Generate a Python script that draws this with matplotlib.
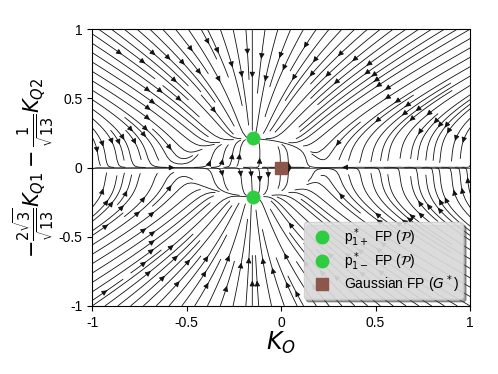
import numpy as np
import matplotlib
matplotlib.use("Agg")
import matplotlib.pyplot as plt

plt.rcParams['font.family'] = ['Liberation Sans', 'DejaVu Sans']
plt.rcParams['mathtext.fontset'] = 'dejavusans'

# fixed points
fp_x = [-0.15, -0.15, 0.0]
fp_y = [0.21, -0.21, 0.0]
fp_labels = [r'p$^*_{1+}$ FP ($\mathcal{P}$)',
             r'p$^*_{1-}$ FP ($\mathcal{P}$)',
             r'Gaussian FP ($G^*$)']
fp_colors = ['#2ecc40', '#2ecc40', '#8c564b']
fp_markers = ['o', 'o', 's']

ticks = [-1, -0.5, 0, 0.5, 1]
tick_labels = ['-1', '-0.5', '0', '0.5', '1']

# flow parameters (shape of the beta functions)
a, b = fp_x[0], fp_y[0]
eps, k, c, s = 0.001, 1.66, 0.3, 0.35


def beta(x, y):
    u = -eps * (x - a * y**2 / b**2) - k * (x - a) * y**4 / (y**2 + s**2)
    v = -y * (y**2 - b**2 + c * (x - a)**2)
    return u, v


xs = np.linspace(-1, 1, 300)
ys = np.linspace(-1, 1, 300)
X, Y = np.meshgrid(xs, ys)
U, V = beta(X, Y)

fig = plt.figure(figsize=(4.98, 3.74), dpi=100)
ax = fig.add_axes([0.185, 0.182, 0.759, 0.740])

ax.streamplot(X, Y, U, V, density=2.0, color='#111111', linewidth=0.6,
              arrowsize=0.8, arrowstyle='-|>')
ax.axhline(0, color='#555555', lw=0.6, zorder=1)

for px, py, lab, col, mk in zip(fp_x, fp_y, fp_labels, fp_colors, fp_markers):
    ax.plot(px, py, marker=mk, color=col, ms=9,
            ls='none', label=lab, zorder=5)

ax.set_xlim(-1, 1)
ax.set_ylim(-1, 1)
ax.set_xticks(ticks)
ax.set_xticklabels(tick_labels)
ax.set_yticks(ticks)
ax.set_yticklabels(tick_labels)
ax.tick_params(labelsize=10)
ax.set_xlabel(r'$K_O$', fontsize=17, labelpad=0)
ax.set_ylabel(r'$-\frac{2\sqrt{3}}{\sqrt{13}}K_{Q1}-\frac{1}{\sqrt{13}}K_{Q2}$',
              fontsize=15, labelpad=2)

leg = ax.legend(loc='lower right', fontsize=10, fancybox=True, shadow=True,
                framealpha=0.85, facecolor='#e6e6e6', borderaxespad=0.5,
                labelspacing=0.05, handletextpad=0.6, borderpad=0.3)

fig.savefig('out.png', dpi=100)
